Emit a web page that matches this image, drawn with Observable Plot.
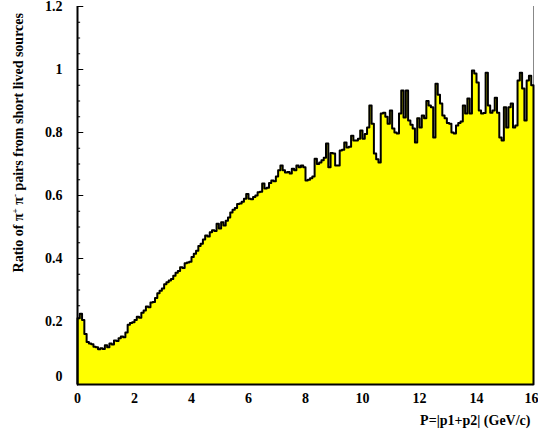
<!DOCTYPE html>
<html>
<head>
<meta charset="utf-8">
<script src="https://cdn.jsdelivr.net/npm/d3@7"></script>
<script src="https://cdn.jsdelivr.net/npm/@observablehq/plot@0.6"></script>
<style>
  html, body { margin: 0; padding: 0; background: #fff; }
  #chart { width: 538px; height: 436px; }
</style>
</head>
<body>
<div id="chart"></div>
<script>
// Histogram: 200 bins from 0 to 16 GeV/c (bin width 0.08)
const xMin = 0, xMax = 16;
const ratioValues = [
  0.21, 0.225, 0.205, 0.16, 0.135, 0.13, 0.128, 0.12, 0.118, 0.112,
  0.115, 0.113, 0.125, 0.118, 0.13, 0.127, 0.14, 0.138, 0.147, 0.152,
  0.15, 0.165, 0.19, 0.195, 0.198, 0.205, 0.215, 0.212, 0.228, 0.235,
  0.248, 0.245, 0.26, 0.262, 0.275, 0.29, 0.298, 0.305, 0.318, 0.325,
  0.33, 0.335, 0.345, 0.355, 0.36, 0.372, 0.37, 0.385, 0.387, 0.39,
  0.405, 0.415, 0.425, 0.44, 0.447, 0.46, 0.473, 0.47, 0.483, 0.49,
  0.487, 0.51, 0.495, 0.515, 0.505, 0.52, 0.53, 0.546, 0.555, 0.56,
  0.573, 0.575, 0.58, 0.59, 0.605, 0.59, 0.588, 0.595, 0.6, 0.61,
  0.612, 0.638, 0.622, 0.625, 0.64, 0.648, 0.645, 0.66, 0.68, 0.695,
  0.68, 0.673, 0.675, 0.67, 0.685, 0.68, 0.695, 0.69, 0.695, 0.69,
  0.648, 0.65, 0.655, 0.66, 0.717, 0.70, 0.705, 0.712, 0.72, 0.765,
  0.69, 0.735, 0.733, 0.695, 0.695, 0.743, 0.745, 0.768, 0.752, 0.755,
  0.79, 0.775, 0.775, 0.78, 0.806, 0.78, 0.795, 0.816, 0.886, 0.828,
  0.733, 0.715, 0.705, 0.86, 0.863, 0.85, 0.828, 0.87, 0.813, 0.80,
  0.797, 0.86, 0.933, 0.848, 0.933, 0.838, 0.825, 0.813, 0.768, 0.845,
  0.816, 0.854, 0.845, 0.90, 0.886, 0.88, 0.784, 0.955, 0.92, 0.892,
  0.854, 0.845, 0.83, 0.828, 0.80, 0.797, 0.822, 0.83, 0.835, 0.886,
  0.86, 0.908, 0.86, 0.997, 0.987, 0.959, 0.87, 0.86, 0.862, 0.99,
  0.886, 0.863, 0.87, 0.91, 0.863, 0.784, 0.775, 0.88, 0.816, 0.88,
  0.892, 0.816, 0.822, 0.965, 0.99, 0.94, 0.838, 0.965, 0.98, 0.95
];
const xTicks = [0, 2, 4, 6, 8, 10, 12, 14, 16];
const xTickLabels = ["0", "2", "4", "6", "8", "10", "12", "14", "16"];
const yTicks = [0, 0.2, 0.4, 0.6, 0.8, 1.0, 1.2];
const yTickLabels = ["0", "0.2", "0.4", "0.6", "0.8", "1", "1.2"];
const yMinorTicks = d3.range(0, 25).map(i => i * 0.05);
const xTitle = "P=|p1+p2| (GeV/c)";

const nBins = ratioValues.length;
const binW = (xMax - xMin) / nBins;

// step points for fill
const fillPts = ratioValues.map((v, i) => ({x: xMin + i * binW, y: v}));
fillPts.push({x: xMax, y: ratioValues[nBins - 1]});
// outline: start from 0 at left, drop to 0 at right
const linePts = [{x: xMin, y: 0}, ...fillPts, {x: xMax, y: 0}];

const font = "'Liberation Serif', 'Times New Roman', serif";
const yTickObjs = yTicks.map((t, i) => ({v: t, label: yTickLabels[i]}));
const xTickObjs = xTicks.map((t, i) => ({v: t, label: xTickLabels[i]}));

const chart = Plot.plot({
  width: 538,
  height: 436,
  marginLeft: 77,
  marginRight: 5,
  marginTop: 6,
  marginBottom: 52,
  x: {domain: [xMin, xMax], axis: null},
  y: {domain: [0, 1.2], axis: null},
  style: {fontFamily: font, background: "#fff", overflow: "visible"},
  marks: [
    // inward ticks on the y axis
    Plot.ruleY(yMinorTicks, {y: d => d, x1: 0, x2: 0.11, stroke: "#000", strokeWidth: 1}),
    Plot.ruleY(yTicks, {y: d => d, x1: 0, x2: 0.22, stroke: "#000", strokeWidth: 1}),
    // right frame edge
    Plot.ruleX([xMax], {stroke: "#888", strokeWidth: 1}),
    // histogram fill and outline
    Plot.areaY(fillPts, {x: "x", y: "y", curve: "step-after", fill: "#ffff00"}),
    Plot.line(linePts, {x: "x", y: "y", curve: "step-after", stroke: "#000", strokeWidth: 2}),
    // axes
    Plot.ruleX([xMin], {stroke: "#000", strokeWidth: 2}),
    Plot.ruleY([0], {stroke: "#000", strokeWidth: 2}),
    // y tick labels
    Plot.text(yTickObjs.filter(d => d.v !== 0), {x: xMin, y: "v", text: "label", textAnchor: "end", dx: -15, fontSize: 14, fontWeight: "bold", fill: "#000"}),
    Plot.text(yTickObjs.filter(d => d.v === 0), {x: xMin, y: "v", text: "label", textAnchor: "end", dx: -15, dy: -8, fontSize: 14, fontWeight: "bold", fill: "#000"}),
    // x tick labels
    Plot.text(xTickObjs.filter(d => d.v !== xMax), {x: "v", y: 0, text: "label", dy: 14, fontSize: 14, fontWeight: "bold", fill: "#000"}),
    Plot.text(xTickObjs.filter(d => d.v === xMax), {x: "v", y: 0, text: "label", textAnchor: "end", dx: 5, dy: 14, fontSize: 14, fontWeight: "bold", fill: "#000"}),
    // x title
    Plot.text([xTitle], {x: xMax, y: 0, text: d => d, textAnchor: "end", dx: -3, dy: 36, fontSize: 14, fontWeight: "bold", fill: "#000"})
  ]
});

document.getElementById("chart").appendChild(chart);

// y-axis title with superscripts
const svg = d3.select(chart);
const yTitle = svg.append("text")
  .attr("transform", "translate(23,13) rotate(-90)")
  .attr("text-anchor", "end")
  .attr("font-family", font)
  .attr("font-weight", "bold")
  .attr("font-size", 14)
  .attr("fill", "#000");
yTitle.append("tspan").text("Ratio of \u03C0");
yTitle.append("tspan").attr("baseline-shift", "super").attr("font-size", 9).text("+");
yTitle.append("tspan").text(" \u03C0");
yTitle.append("tspan").attr("baseline-shift", "super").attr("font-size", 9).text("-");
yTitle.append("tspan").text(" pairs from short lived sources");
</script>
</body>
</html>
